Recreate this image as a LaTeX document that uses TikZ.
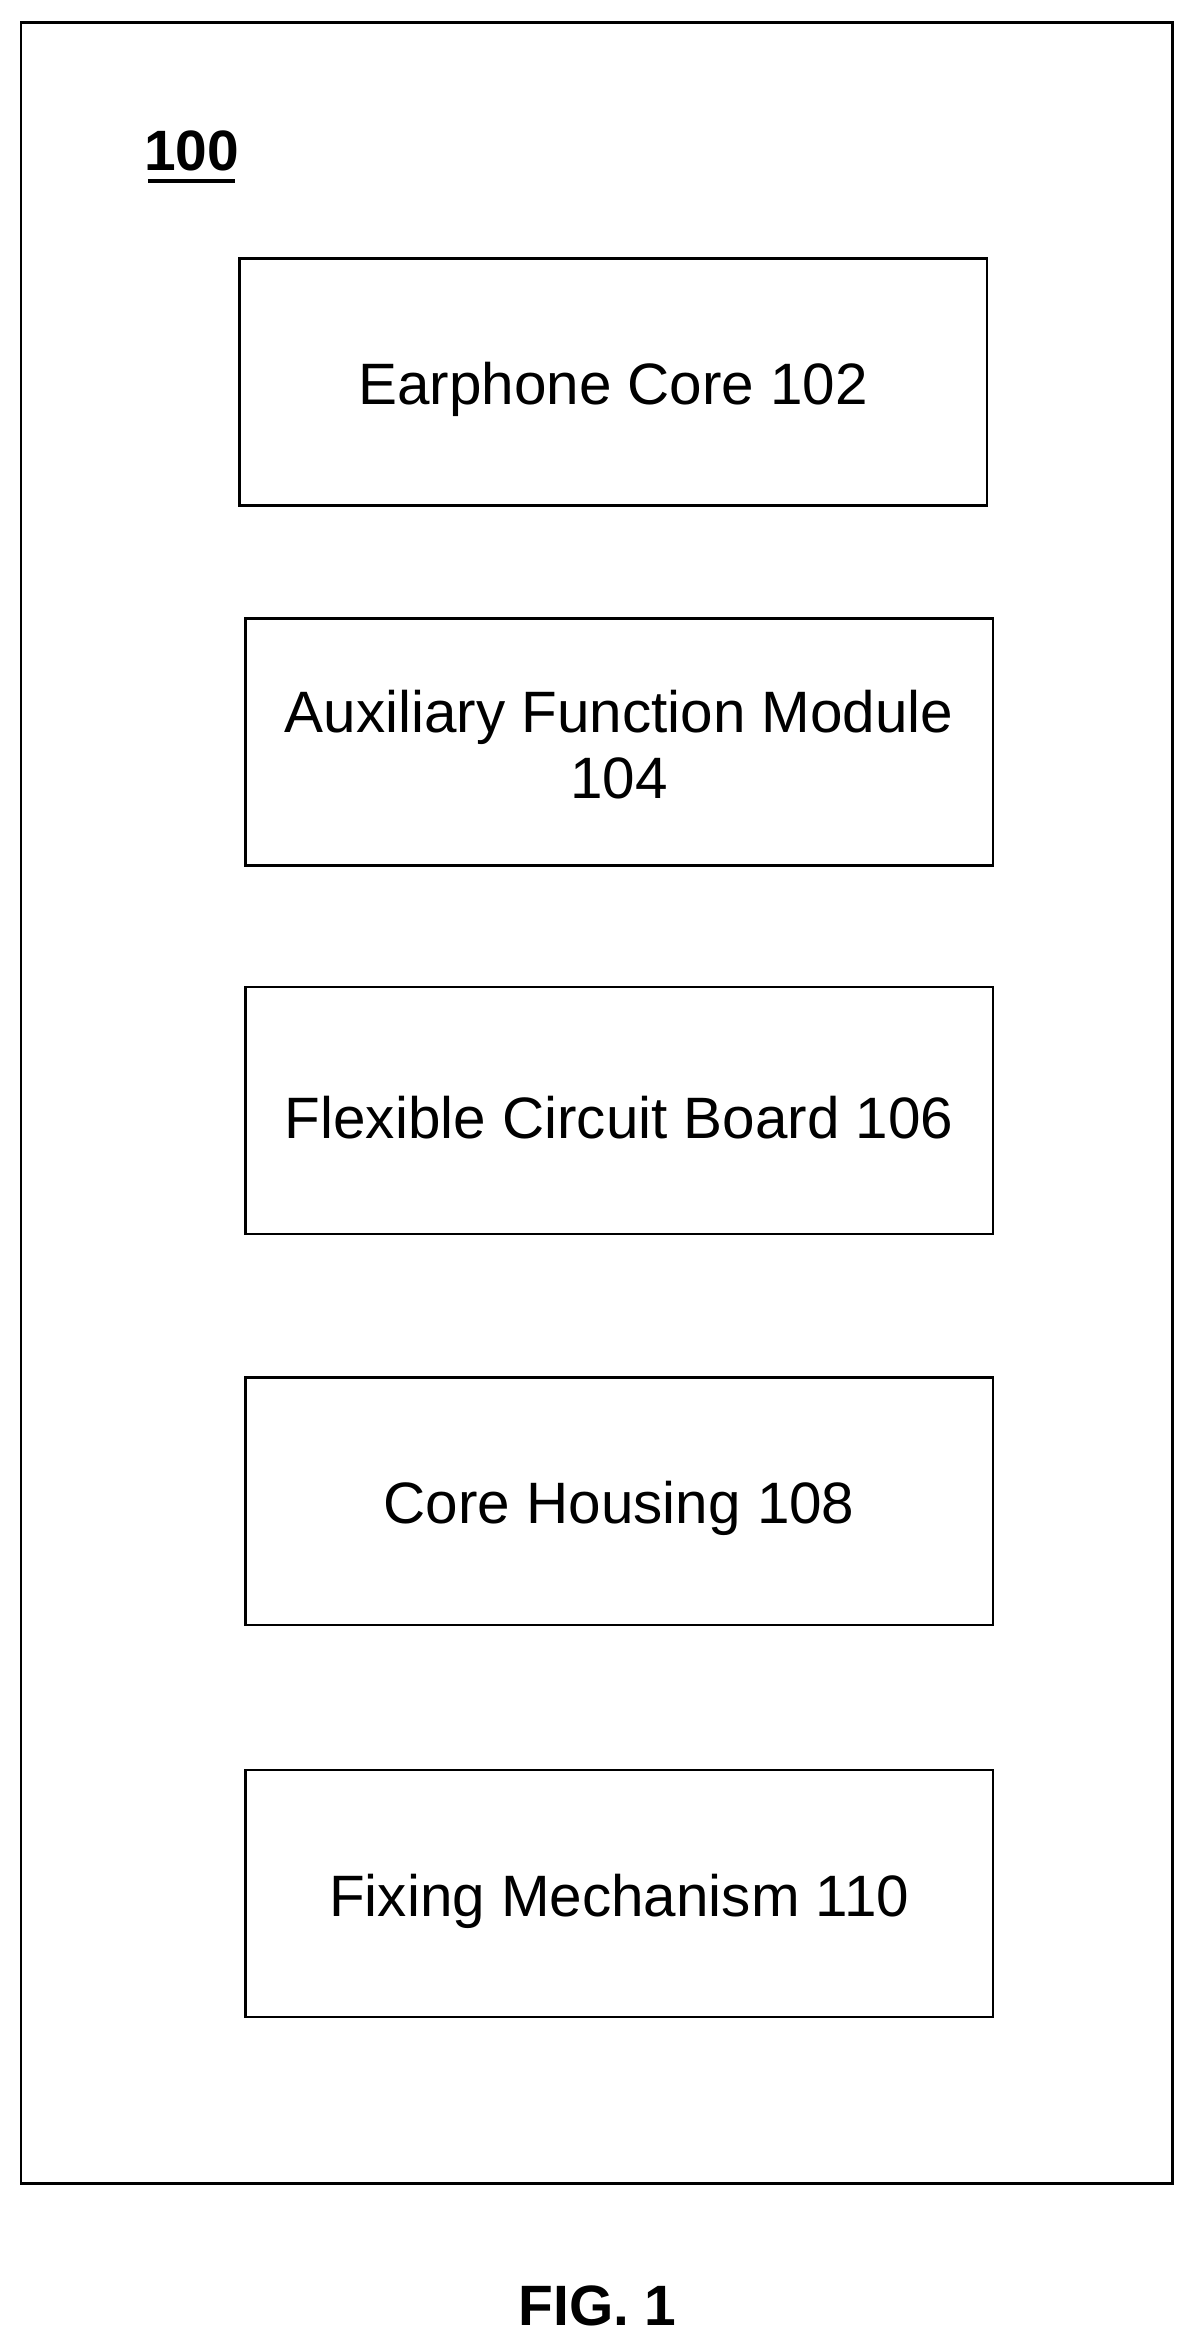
\documentclass[tikz,border=0pt]{standalone}
\usepackage{fontspec}
\setmainfont{Liberation Sans}
\usetikzlibrary{positioning}
\begin{document}
\begin{tikzpicture}[x=1pt,y=-1pt,
    part/.style={draw, line width=1.6pt, minimum width=499pt, minimum height=165pt,
      inner sep=0pt},
    parttext/.style={align=center, font=\fontsize{39}{44}\selectfont, yshift=-5pt}]
    % Page size and outer frame
    \useasboundingbox (0,0) rectangle (798,1568);
    \draw[line width=1.6pt] (14,15) rectangle (783,1458);

    % Reference label
    \node[font=\bfseries\fontsize{38}{44}\selectfont] (ref) at (128,101) {100};
    \draw[line width=2.4pt] ([yshift=-3pt]ref.south west) ++(6,0) -- ([xshift=-6pt,yshift=-3pt]ref.south east);

    % Component boxes
    \node[part, label={[parttext]center:Earphone Core 102}] (core) at (409.5,255) {};
    \node[part, label={[parttext,yshift=3pt]center:Auxiliary Function Module\\104}] (aux) at (413.5,495.5) {};
    \node[part, label={[parttext]center:Flexible Circuit Board 106}] (fpc) at (413.5,741.5) {};
    \node[part, label={[parttext]center:Core Housing 108}] (housing) at (413.5,1002.5) {};
    \node[part, label={[parttext]center:Fixing Mechanism 110}] (fix) at (413.5,1264.5) {};

    % Caption
    \node[font=\bfseries\fontsize{38}{44}\selectfont] (fig) at (399,1540) {FIG. 1};
\end{tikzpicture}
\end{document}
